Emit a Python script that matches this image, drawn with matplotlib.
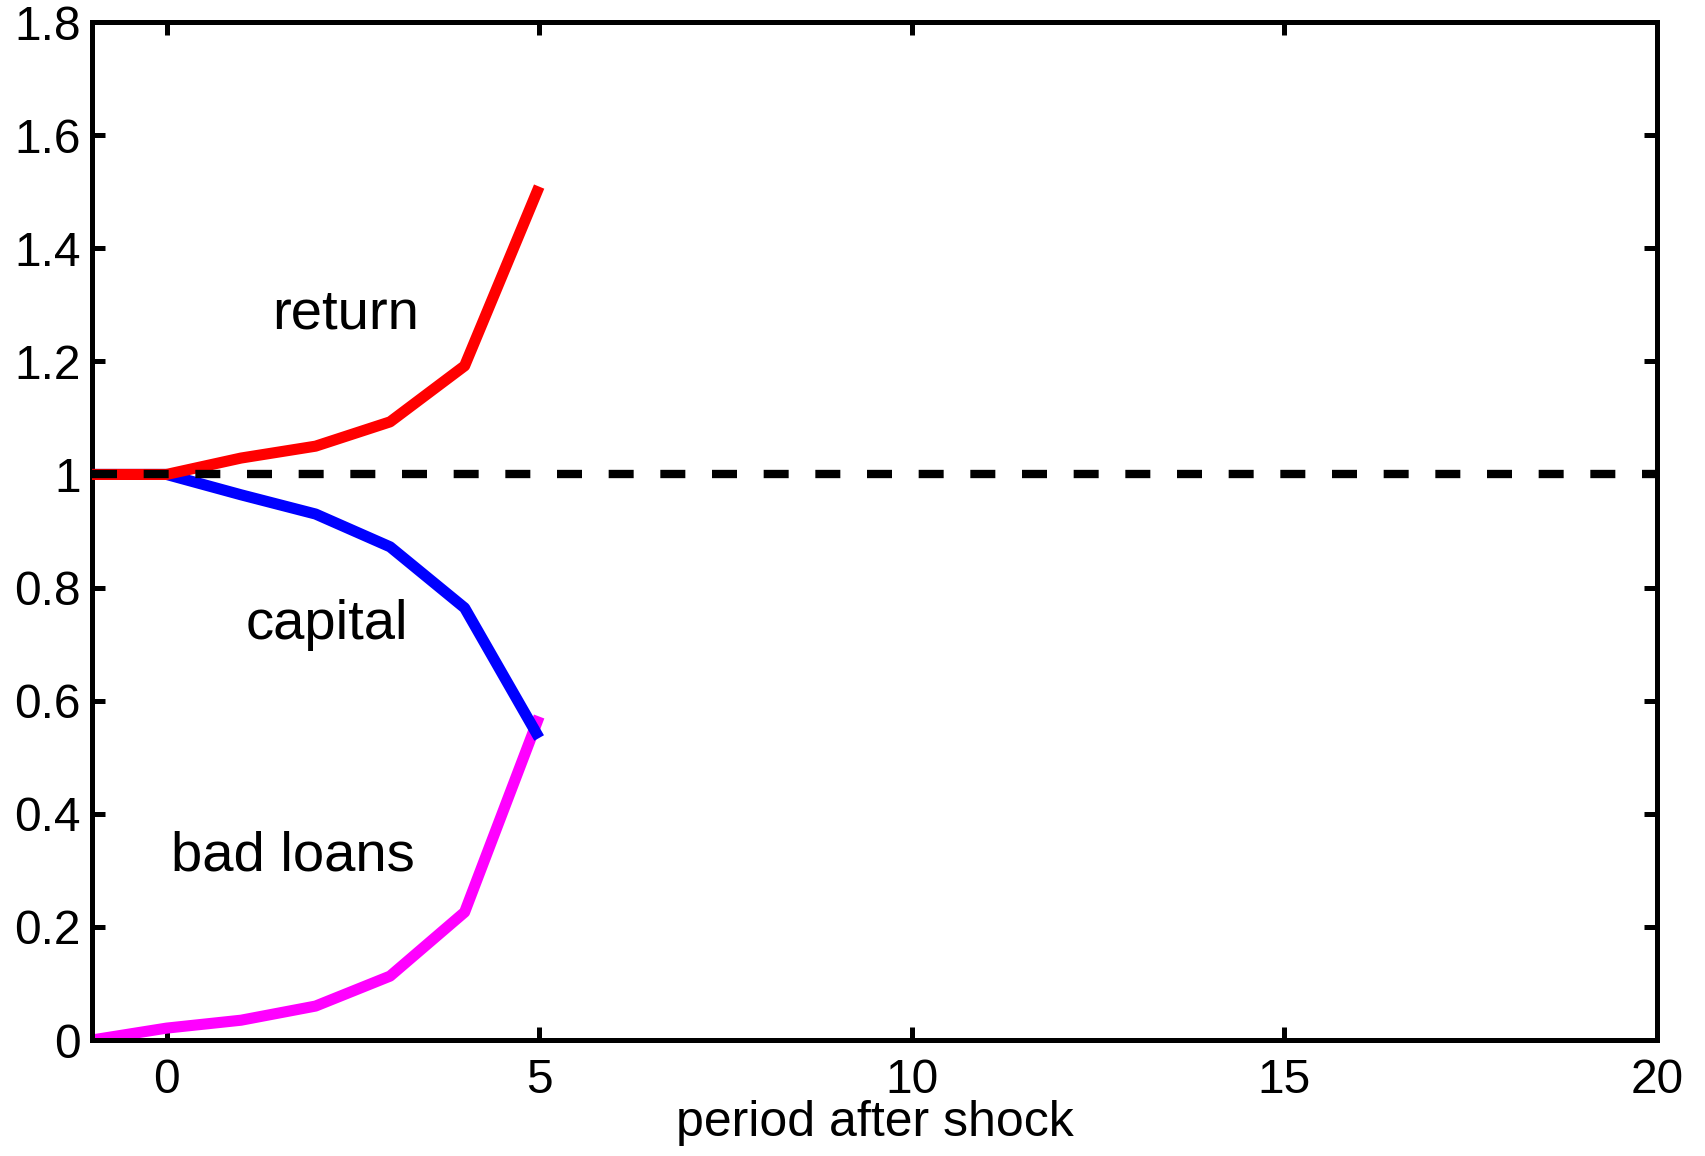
import numpy as np
import matplotlib
matplotlib.use('Agg')
import matplotlib.pyplot as plt

plt.rcParams['font.family'] = ['Liberation Sans', 'DejaVu Sans']

# periods (t = -1 is the pre-shock steady state)
periods = [-1, 0, 1, 2, 3, 4, 5]
ret = [1.0, 1.0, 1.029, 1.050, 1.093, 1.192, 1.509]
capital = [1.0, 1.0, 0.964, 0.930, 0.872, 0.764, 0.534]
bad_loans = [0.0, 0.021, 0.035, 0.060, 0.113, 0.226, 0.572]
steady_x = [-1, 20]
steady_y = [1.0, 1.0]

xticks = [0, 5, 10, 15, 20]
yticks = [0, 0.2, 0.4, 0.6, 0.8, 1.0, 1.2, 1.4, 1.6, 1.8]
ytick_labels = ['0', '0.2', '0.4', '0.6', '0.8', '1', '1.2', '1.4', '1.6', '1.8']

fig = plt.figure(figsize=(17.05, 11.56), dpi=100)
ax = fig.add_axes([92 / 1705, 1 - 1040 / 1156, (1657 - 92) / 1705, (1040 - 22) / 1156])

lw = 8.0
ax.plot(periods, bad_loans, color='#ff00ff', linewidth=lw, solid_capstyle='butt', zorder=2)
ax.plot(periods, capital, color='#0000ff', linewidth=lw, solid_capstyle='butt', zorder=3)
ax.plot(periods, ret, color='#ff0000', linewidth=lw, solid_capstyle='butt', zorder=4)
ax.plot(steady_x, steady_y, color='black', linewidth=6.0, linestyle=(0, (3.0, 3.2)),
        dash_capstyle='butt', zorder=5)

ax.text(2.4, 1.282, 'return', fontsize=40.5, ha='center', va='center')
ax.text(2.15, 0.734, 'capital', fontsize=40.5, ha='center', va='center')
ax.text(1.7, 0.324, 'bad loans', fontsize=40.5, ha='center', va='center')

ax.set_xlim(-1, 20)
ax.set_ylim(0, 1.8)
ax.set_xticks(xticks)
ax.set_xticklabels([str(t) for t in xticks])
ax.set_yticks(yticks)
ax.set_yticklabels(ytick_labels)
ax.tick_params(direction='in', length=9.5, width=3.6, labelsize=34.5,
               top=True, right=True)
ax.tick_params(axis='x', pad=13)
ax.tick_params(axis='y', pad=8)
for s in ax.spines.values():
    s.set_linewidth(3.6)
ax.set_xlabel('period after shock', fontsize=36, labelpad=-2)

fig.savefig('out.png', dpi=100)
